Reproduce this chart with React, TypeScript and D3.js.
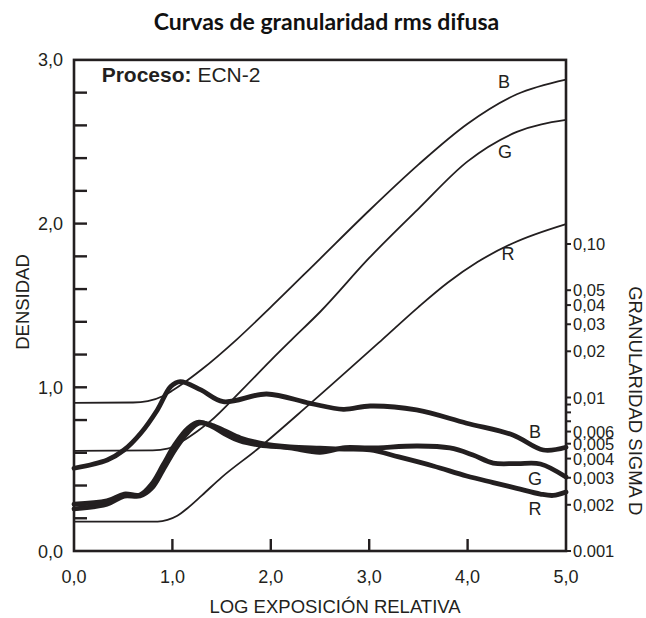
import React from "react";
import * as d3 from "d3";

// ---------- data ----------
const exposureTicks = [0, 1, 2, 3, 4, 5];
const densityTicks = [0, 1, 2, 3];
const densityMinorTicks = [0.2, 0.4, 0.6, 0.8, 1.2, 1.4, 1.6, 1.8, 2.2, 2.4, 2.6, 2.8];
const sigmaTicks = [0.1, 0.05, 0.04, 0.03, 0.02, 0.01, 0.006, 0.005, 0.004, 0.003, 0.002, 0.001];
const sigmaTickLabels = ["0,10", "0,05", "0,04", "0,03", "0,02", "0,01", "0,006", "0,005", "0,004", "0,003", "0,002", "0.001"];
const sigmaMinorTicks = [0.007, 0.008, 0.009];

// density curves: [log exposure, density]
const densityB: [number, number][] = [
  [0, 0.905], [0.6, 0.907], [0.75, 0.915], [0.9, 0.945], [1.0, 0.98], [1.1, 1.02], [1.3, 1.11],
  [1.65, 1.29], [2.0, 1.49], [2.5, 1.785], [3.0, 2.08], [3.5, 2.36], [4.0, 2.61], [4.5, 2.79], [5.0, 2.88],
];
const densityG: [number, number][] = [
  [0, 0.612], [0.8, 0.615], [0.95, 0.625], [1.1, 0.67], [1.25, 0.73], [1.38, 0.79], [1.7, 0.98],
  [2.0, 1.165], [2.21, 1.29], [2.5, 1.46], [3.0, 1.79], [3.5, 2.09], [4.0, 2.38], [4.5, 2.56], [5.0, 2.633],
];
const densityR: [number, number][] = [
  [0, 0.179], [0.85, 0.18], [0.95, 0.19], [1.05, 0.215], [1.15, 0.26], [1.3, 0.34], [1.5, 0.45],
  [1.86, 0.62], [2.4, 0.9], [3.13, 1.29], [3.5, 1.49], [3.8, 1.64], [4.1, 1.765], [4.46, 1.88], [5.0, 1.997],
];

// granularity curves: [log exposure, rms sigma D]
const grainB: [number, number][] = [
  [0, 0.00346], [0.338, 0.00392], [0.508, 0.00455], [0.678, 0.00585], [0.847, 0.0083], [0.983, 0.0118],
  [1.08, 0.0127], [1.29, 0.0112], [1.517, 0.0094], [1.958, 0.01054], [2.4, 0.00916], [2.737, 0.00838],
  [3.01, 0.0088], [3.48, 0.0083], [3.99, 0.0068], [4.46, 0.0057], [4.77, 0.00455], [5.0, 0.00474],
];
const grainG: [number, number][] = [
  [0, 0.00202], [0.335, 0.00212], [0.51, 0.00235], [0.67, 0.00232], [0.79, 0.00273], [0.905, 0.00363],
  [1.03, 0.00498], [1.16, 0.00632], [1.27, 0.00691], [1.4, 0.0065], [1.535, 0.00578], [1.69, 0.0052],
  [1.89, 0.0049], [2.195, 0.00469], [2.5, 0.0044], [2.755, 0.00472], [3.01, 0.00469], [3.49, 0.00483],
  [3.82, 0.00469], [4.055, 0.00422], [4.26, 0.00374], [4.5, 0.00371], [4.74, 0.00369], [5.0, 0.00303],
];
const grainR: [number, number][] = [
  [0, 0.00188], [0.335, 0.00202], [0.51, 0.00228], [0.67, 0.00228], [0.79, 0.00257], [0.905, 0.00337],
  [1.03, 0.00461], [1.16, 0.00596], [1.27, 0.0068], [1.4, 0.0066], [1.535, 0.00605], [1.69, 0.00545],
  [1.89, 0.00505], [2.195, 0.00476], [2.5, 0.00467], [2.75, 0.00461], [3.01, 0.00455], [3.3, 0.0041],
  [3.65, 0.00358], [3.99, 0.00308], [4.26, 0.00279], [4.5, 0.00256], [4.74, 0.00235], [4.87, 0.0023], [5.0, 0.00242],
];

const densityLabels = [
  { text: "B", e: 4.37, d: 2.865 },
  { text: "G", e: 4.38, d: 2.443 },
  { text: "R", e: 4.41, d: 1.82 },
];
const grainLabels = [
  { text: "B", e: 4.685, s: 0.00605 },
  { text: "G", e: 4.685, s: 0.00297 },
  { text: "R", e: 4.685, s: 0.0019 },
];

// ---------- chart ----------
const W = 646;
const H = 618;
const INK = "#231f20";
const FONT = "'Liberation Sans', Arial, Helvetica, sans-serif";

export default function App() {
  const x = d3.scaleLinear().domain([0, 5]).range([74, 566]);
  const y = d3.scaleLinear().domain([0, 3]).range([551, 59.9]);
  const ys = d3.scaleLog().domain([0.001, 0.1]).range([551, 244]);

  const densLine = d3
    .line<[number, number]>()
    .x((p) => x(p[0]))
    .y((p) => y(p[1]))
    .curve(d3.curveMonotoneX);
  const grainLine = d3
    .line<[number, number]>()
    .x((p) => x(p[0]))
    .y((p) => ys(p[1]))
    .curve(d3.curveCatmullRom.alpha(0.5));

  const [x0, x1] = x.range();
  const yTop = y(3);
  const yBot = y(0);

  return (
    <svg
      width={W}
      height={H}
      style={{ position: "absolute", left: 0, top: 0, background: "#fff" }}
      fontFamily={FONT}
    >
      <rect x={0} y={0} width={W} height={H} fill="#fff" />
      {/* title */}
      <text
        x={326.5}
        y={30}
        textAnchor="middle"
        fontFamily="Lato, 'Open Sans', sans-serif"
        fontWeight={700}
        fontSize={23}
        fill="#111"
      >
        Curvas de granularidad rms difusa
      </text>

      {/* density curves (thin) */}
      {[densityB, densityG, densityR].map((dat, i) => (
        <path key={"d" + i} d={densLine(dat) || ""} fill="none" stroke={INK} strokeWidth={1.8} />
      ))}
      {/* granularity curves (thick) */}
      {[grainR, grainG, grainB].map((dat, i) => (
        <path
          key={"g" + i}
          d={grainLine(dat) || ""}
          fill="none"
          stroke={INK}
          strokeWidth={4.8}
          strokeLinejoin="round"
          strokeLinecap="round"
        />
      ))}

      {/* frame */}
      <rect x={x0} y={yTop} width={x1 - x0} height={yBot - yTop} fill="none" stroke={INK} strokeWidth={2.6} />

      {/* left ticks (inward) */}
      {densityMinorTicks.concat(densityTicks.filter((t) => t > 0 && t < 3)).map((t) => (
        <line key={"lt" + t} x1={x0} x2={x0 + 13} y1={y(t)} y2={y(t)} stroke={INK} strokeWidth={2.4} />
      ))}
      {densityTicks.map((t) => (
        <text key={"ll" + t} x={63} y={y(t) + 6.5} textAnchor="end" fontSize={18} fill={INK}>
          {t.toFixed(1).replace(".", ",")}
        </text>
      ))}

      {/* bottom ticks (inward) */}
      {exposureTicks
        .filter((t) => t > 0 && t < 5)
        .map((t) => (
          <line key={"bt" + t} x1={x(t)} x2={x(t)} y1={yBot} y2={yBot - 12} stroke={INK} strokeWidth={2.4} />
        ))}
      {exposureTicks.map((t) => (
        <text key={"bl" + t} x={x(t)} y={582.5} textAnchor="middle" fontSize={18} fill={INK}>
          {t.toFixed(1).replace(".", ",")}
        </text>
      ))}

      {/* right log axis ticks (outward) */}
      {sigmaTicks.concat(sigmaMinorTicks).map((t) => (
        <line key={"rt" + t} x1={x1} x2={x1 + 5} y1={ys(t)} y2={ys(t)} stroke={INK} strokeWidth={2} />
      ))}
      {sigmaTicks.map((t, i) => (
        <text key={"rl" + t} x={573} y={ys(t) + 6} fontSize={16.5} fill={INK}>
          {sigmaTickLabels[i]}
        </text>
      ))}

      {/* axis titles */}
      <text x={335} y={612.5} textAnchor="middle" fontSize={18.5} fill={INK}>
        LOG EXPOSICIÓN RELATIVA
      </text>
      <text
        transform={`translate(28.5, 302) rotate(-90)`}
        textAnchor="middle"
        fontSize={18.5}
        fill={INK}
      >
        DENSIDAD
      </text>
      <text
        transform={`translate(628.5, 400.8) rotate(90)`}
        textAnchor="middle"
        fontSize={18.5}
        fill={INK}
      >
        GRANULARIDAD SIGMA D
      </text>

      {/* process label */}
      <text x={101.7} y={82} fontSize={21} fill={INK}>
        <tspan fontWeight={700}>Proceso:</tspan>
        <tspan> ECN-2</tspan>
      </text>

      {/* curve labels */}
      {densityLabels.map((l) => (
        <text key={"dl" + l.text} x={x(l.e)} y={y(l.d) + 6.5} textAnchor="middle" fontSize={18} fill={INK}>
          {l.text}
        </text>
      ))}
      {grainLabels.map((l) => (
        <text key={"gl" + l.text} x={x(l.e)} y={ys(l.s) + 6.5} textAnchor="middle" fontSize={18} fill={INK}>
          {l.text}
        </text>
      ))}
    </svg>
  );
}
